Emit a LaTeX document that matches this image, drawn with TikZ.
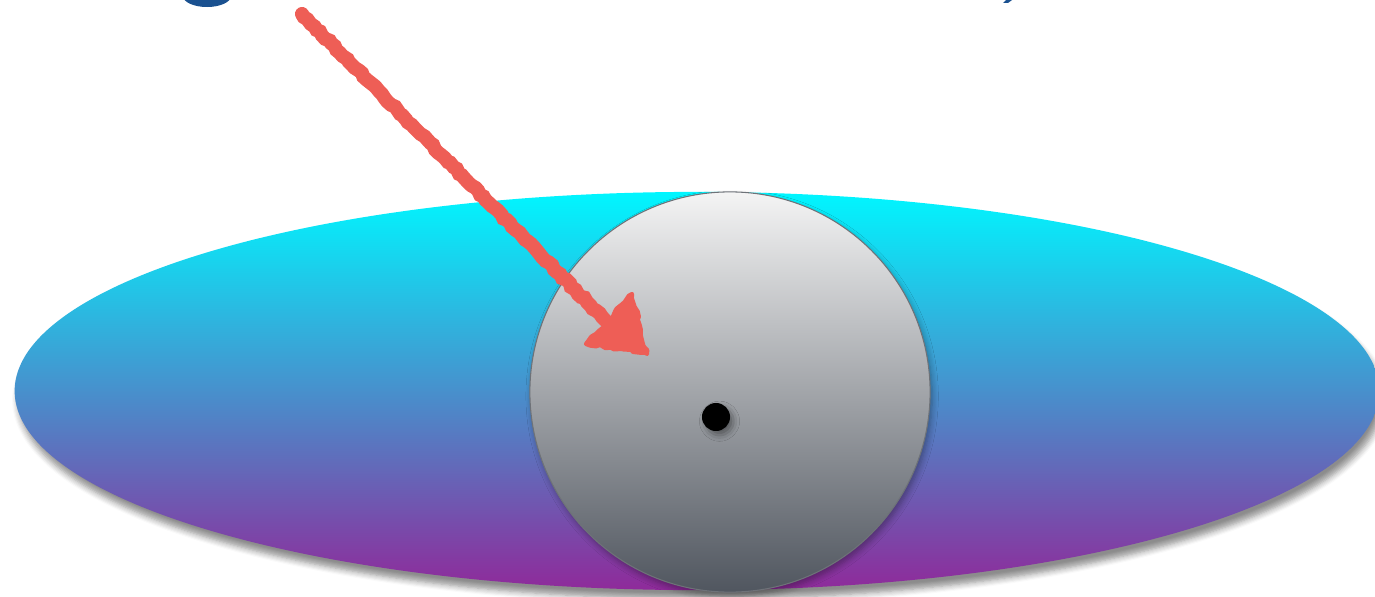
\documentclass[tikz,border=0pt]{standalone}
\usetikzlibrary{shapes.geometric,shadows.blur,decorations.pathmorphing}
\definecolor{DiskTop}{HTML}{00F6FF}
\definecolor{DiskMid}{HTML}{3E98D0}
\definecolor{DiskBottom}{HTML}{8F2A9A}
\definecolor{BallTop}{HTML}{F4F4F4}
\definecolor{BallMid}{HTML}{B1B3B6}
\definecolor{BallBottom}{HTML}{50565F}
\definecolor{BallEdge}{HTML}{6E7278}
\definecolor{Crayon}{HTML}{EE5E56}
\definecolor{TitleInk}{HTML}{1A5190}
\tikzset{
  disk/.style={ellipse, inner sep=0pt, minimum width=13.64cm, minimum height=3.98cm,
    shading=axis, top color=DiskTop, middle color=DiskMid, bottom color=DiskBottom,
    blur shadow={shadow xshift=1pt, shadow yshift=-2.5pt, shadow blur steps=6, shadow opacity=45}},
  ball/.style={circle, inner sep=0pt, minimum size=4.0cm, draw=BallEdge, line width=0.3pt,
    shading=axis, top color=BallTop, middle color=BallMid, bottom color=BallBottom,
    blur shadow={shadow xshift=0.6pt, shadow yshift=-1.2pt, shadow blur steps=6, shadow opacity=35}},
  centre/.style={circle, inner sep=0pt, minimum size=0.28cm, fill=black,
    blur shadow={shadow xshift=1pt, shadow yshift=-1.2pt, shadow blur steps=3, shadow opacity=40}},
  crayon/.style={draw=Crayon, line width=4pt, line cap=round, decorate,
    decoration={random steps, segment length=1.2pt, amplitude=0.3pt}},
  crayonhead/.style={fill=Crayon, draw=Crayon, line width=1.2pt, line join=round, decorate,
    decoration={random steps, segment length=1.4pt, amplitude=0.45pt}},
}
\begin{document}
\begin{tikzpicture}[x=0.01cm, y=-0.01cm]
  \useasboundingbox (0,0) rectangle (1375,597);
  % cut-off title above the picture
  \fill[TitleInk] (207,-4) ellipse [x radius=24, y radius=11];
  \fill[TitleInk] (1003,3) -- (1006,0) -- (1012,0) -- (1008,3) -- cycle;

  \node[disk] (disk) at (697,391) {};
  \node[ball] (ball) at (730,392) {};
  \node[centre] (dot) at (716,417) {};

  % sketched arrow pointing into the ball
  \coordinate (tail) at (302,14);
  \coordinate (base) at (606,321);
  \coordinate (headTop) at (632,294);
  \coordinate (headLeft) at (586,344);
  \coordinate (tip) at (647,354);
  \draw[crayon] (tail) -- (base);
  \draw[crayonhead] (headTop) -- (headLeft) -- (tip) -- cycle;
\end{tikzpicture}
\end{document}
